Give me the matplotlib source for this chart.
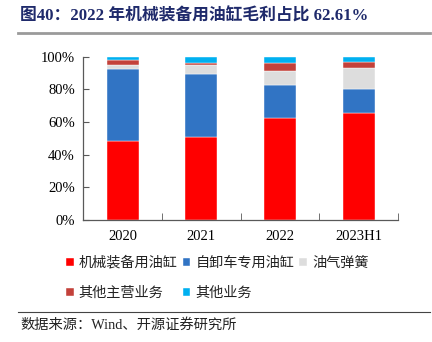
import matplotlib
matplotlib.use("Agg")
import matplotlib.pyplot as plt
from matplotlib.lines import Line2D
import numpy as np

categories = ["2020", "2021", "2022", "2023H1"]
series_names = ["机械装备用油缸", "自卸车专用油缸", "油气弹簧", "其他主营业务", "其他业务"]
machinery = [48.4, 51.0, 62.61, 65.3]
dump_truck = [44.0, 38.4, 20.0, 14.9]
gas_spring = [2.5, 5.5, 8.6, 13.1]
other_main = [3.1, 1.4, 5.1, 3.6]
other_biz = [2.0, 3.7, 3.69, 3.1]
yticks = [0, 20, 40, 60, 80, 100]
ytick_labels = ["0%", "20%", "40%", "60%", "80%", "100%"]
title = "图40：2022 年机械装备用油缸毛利占比 62.61%"
source = "数据来源：Wind、开源证券研究所"

colors = ["#FF0000", "#3174C4", "#DDDDDD", "#C3413A", "#00B0F0"]
cjk = ["Liberation Serif", "Noto Sans CJK SC", "DejaVu Sans"]
plt.rcParams['font.family'] = cjk

fig = plt.figure(figsize=(4.32, 3.42), dpi=100)
ax = fig.add_axes([83.3/432, 1-220/342, (398-83.3)/432, (220-56.7)/342])

x = np.arange(len(categories))
series = [machinery, dump_truck, gas_spring, other_main, other_biz]
bottom = np.zeros(len(categories))
handles = []
for name, vals, c in zip(series_names, series, colors):
    b = ax.bar(x, vals, width=0.41, bottom=bottom, color=c, edgecolor="white", linewidth=0.3, label=name)
    bottom += np.array(vals)
    handles.append(b)

ax.set_xlim(-0.5, len(categories) - 0.5)
ax.set_ylim(0, 100)
ax.set_yticks(yticks)
ax.set_yticklabels(ytick_labels, fontsize=10.5, family="Liberation Serif")
ax.set_xticks(x)
ax.set_xticklabels(categories, fontsize=10.5, family="Liberation Serif")
ax.set_xticks(np.arange(len(categories)) + 0.5, minor=True)
ax.tick_params(axis="x", which="major", length=0, pad=7)
ax.tick_params(axis="x", which="minor", length=5, direction="in", color="#595959")
ax.tick_params(axis="y", length=4, direction="in", color="#595959", pad=6)
for s in ["top", "right"]:
    ax.spines[s].set_visible(False)
for s in ["left", "bottom"]:
    ax.spines[s].set_color("#595959")
    ax.spines[s].set_linewidth(0.9)

order = [0, 3, 1, 4, 2]
leg = fig.legend([handles[i] for i in order], [series_names[i] for i in order],
                 ncol=3, loc="upper left", bbox_to_anchor=(66/432, 1-256/342),
                 frameon=False, fontsize=10.2, handlelength=0.55, handleheight=0.55,
                 handletextpad=0.35, columnspacing=0.35, labelspacing=1.2,
                 borderaxespad=0, borderpad=0)
for t in leg.get_texts():
    t.set_color("#222222")

fig.text(20/432, 1-16/342, title, fontsize=12.1, fontweight="bold", color="#1F2A6B",
         va="center", ha="left", family=cjk)
fig.add_artist(Line2D([18/432, 430/432], [1-33/342, 1-33/342], color="#9A9A9A", linewidth=2))
fig.add_artist(Line2D([18/432, 430/432], [1-311.5/342, 1-311.5/342], color="#444444", linewidth=0.8))
fig.text(20/432, 1-325/342, source, fontsize=10.3, color="#222222", va="center", ha="left", family=cjk)

fig.savefig("out.png", dpi=100)
